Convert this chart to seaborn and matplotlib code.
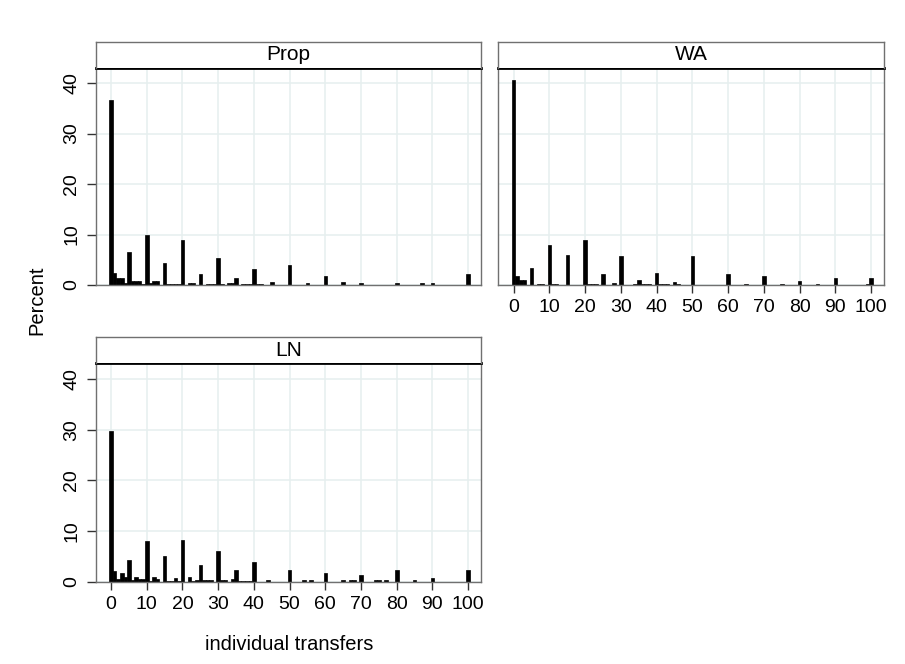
import matplotlib
matplotlib.use("Agg")
import matplotlib.pyplot as plt
import seaborn as sns
import numpy as np

# ---- data: transfer amount -> percent of observations ----
prop_x = [0, 1, 2, 3, 4, 5, 6, 7, 8, 9, 10, 11, 12, 13, 15, 16, 17, 18, 19, 20, 22, 23,
          25, 27, 28, 29, 30, 31, 33, 34, 35, 37, 38, 39, 40, 41, 42, 45, 50, 55, 60,
          65, 70, 80, 87, 90, 100]
prop_y = [36.6, 2.3, 1.3, 1.3, 0.3, 6.6, 0.8, 0.8, 0.8, 0.2, 9.9, 0.3, 0.7, 0.7, 4.4, 0.2,
          0.2, 0.2, 0.2, 8.9, 0.3, 0.3, 2.1, 0.2, 0.2, 0.2, 5.3, 0.2, 0.3, 0.3, 1.3, 0.2,
          0.2, 0.2, 3.2, 0.2, 0.2, 0.6, 4.0, 0.4, 1.7, 0.6, 0.4, 0.4, 0.3, 0.3, 2.1]

wa_x = [0, 1, 2, 3, 5, 7, 8, 10, 11, 12, 15, 20, 21, 22, 23, 25, 28, 30, 34, 35, 36, 37,
        38, 40, 41, 42, 43, 45, 46, 50, 60, 65, 70, 75, 80, 85, 90, 99, 100]
wa_y = [40.6, 1.8, 0.9, 0.9, 3.4, 0.2, 0.2, 7.9, 0.1, 0.1, 5.9, 9.0, 0.2, 0.2, 0.2, 2.1,
        0.3, 5.7, 0.2, 0.9, 0.2, 0.2, 0.2, 2.3, 0.2, 0.2, 0.2, 0.5, 0.2, 5.7, 2.1, 0.2,
        1.7, 0.2, 0.8, 0.2, 1.3, 0.2, 1.3]

ln_x = [0, 1, 2, 3, 4, 5, 6, 7, 8, 9, 10, 11, 12, 13, 15, 16, 17, 18, 19, 20, 22, 23,
        24, 25, 26, 27, 28, 30, 31, 32, 34, 35, 36, 37, 38, 39, 40, 44, 50, 54, 56, 60,
        65, 67, 68, 70, 74, 75, 77, 80, 85, 90, 100]
ln_y = [29.7, 2.2, 0.5, 1.7, 1.0, 4.3, 0.3, 1.0, 0.5, 0.6, 8.1, 0.2, 1.0, 0.6, 5.0, 0.2,
        0.2, 0.8, 0.2, 8.3, 0.9, 0.2, 0.3, 3.3, 0.3, 0.3, 0.3, 6.0, 0.3, 0.4, 0.6, 2.4,
        0.2, 0.2, 0.2, 0.2, 3.8, 0.3, 2.4, 0.3, 0.3, 1.7, 0.3, 0.3, 0.3, 1.3, 0.3, 0.3,
        0.3, 2.4, 0.3, 0.7, 2.4]

panel_names = ["Prop", "WA", "LN"]
x_ticks = [0, 10, 20, 30, 40, 50, 60, 70, 80, 90, 100]
y_ticks = [0, 10, 20, 30, 40]
x_label = "individual transfers"
y_label = "Percent"

# ---- style ----
sns.set_theme(style="white")
plt.rcParams["font.family"] = ["Liberation Sans", "DejaVu Sans"]
plt.rcParams["text.color"] = "black"
plt.rcParams["xtick.color"] = "black"
plt.rcParams["ytick.color"] = "black"

W, H = 905, 664
fig = plt.figure(figsize=(W / 100, H / 100), dpi=100)
fig.patch.set_facecolor("white")

GRID = "#e6efef"
SPINE = "#707070"


def px_axes(l, t, r, b):
    return [l / W, 1 - b / H, (r - l) / W, (b - t) / H]


def draw_panel(xs, ys, name, box, strip_top, show_x, show_y):
    l, t, r, b = box
    ax = fig.add_axes(px_axes(l, t, r, b))
    sns.histplot(x=xs, weights=ys, discrete=True, shrink=1.0, ax=ax,
                 color="black", edgecolor="black", linewidth=0.5, alpha=1.0)
    ax.set_xlim(-4.3, 103.6)
    ax.set_ylim(0, 43.1)
    ax.set_xticks(x_ticks)
    ax.set_yticks(y_ticks)
    ax.grid(True, color=GRID, linewidth=1.1)
    ax.set_axisbelow(True)
    for s in ["left", "right", "bottom"]:
        ax.spines[s].set_color(SPINE)
        ax.spines[s].set_linewidth(1.0)
    ax.spines["top"].set_color("black")
    ax.spines["top"].set_linewidth(2.0)
    ax.set_xlabel("")
    ax.set_ylabel("")
    ax.tick_params(axis="x", which="both", bottom=show_x, labelbottom=show_x,
                   length=6, width=1, color="#333333", labelcolor="black",
                   labelsize=14, pad=4, direction="out")
    ax.tick_params(axis="y", which="both", left=show_y, labelleft=show_y,
                   length=6.5, width=1, color="#333333", labelcolor="black",
                   labelsize=14, pad=4.5, direction="out")
    if show_y:
        for lab in ax.get_yticklabels():
            lab.set_rotation(90)
            lab.set_va("center")
    # strip
    sax = fig.add_axes(px_axes(l, strip_top, r, t))
    sax.set_xticks([])
    sax.set_yticks([])
    sax.set_facecolor("white")
    for s in ["left", "right", "top"]:
        sax.spines[s].set_color(SPINE)
        sax.spines[s].set_linewidth(1.0)
    sax.spines["bottom"].set_visible(False)
    sax.text(0.5, 0.5, name, ha="center", va="center", fontsize=15,
             color="black", transform=sax.transAxes)
    return ax


draw_panel(prop_x, prop_y, panel_names[0], (95.7, 67.5, 481, 285), 41.5, False, True)
draw_panel(wa_x, wa_y, panel_names[1], (498.3, 67.5, 884, 285), 41.5, True, False)
draw_panel(ln_x, ln_y, panel_names[2], (95.7, 363.3, 481, 581.7), 337, True, True)

fig.text(37 / W, 1 - 300 / H, y_label, rotation=90, ha="center", va="center",
         fontsize=14.5, color="black")
fig.text(289 / W, 1 - 645 / H, x_label, ha="center", va="center", fontsize=14.5,
         color="black")

fig.savefig("out.png", dpi=100, facecolor="white")
